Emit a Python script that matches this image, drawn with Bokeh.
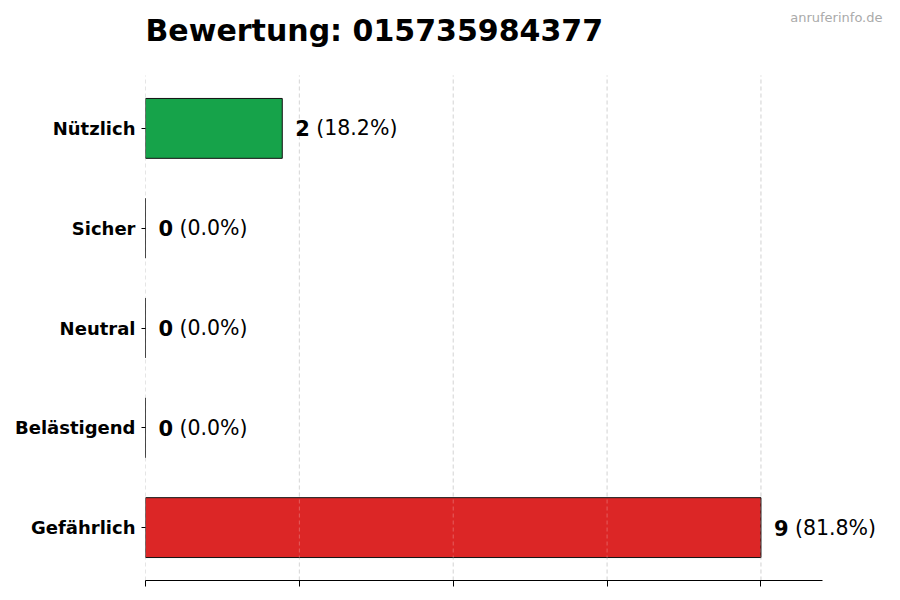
from bokeh.plotting import figure
from bokeh.models import Range1d, FixedTicker, Label
from bokeh.embed import file_html
from bokeh.resources import INLINE

# data
categories = ["Gefährlich", "Belästigend", "Neutral", "Sicher", "Nützlich"]
counts = [9, 0, 0, 0, 2]
colors = ["#dc2626", "#f97316", "#9ca3af", "#2563eb", "#16a34a"]
title_text = "Bewertung: 015735984377"
grid_ticks = [0, 2.25, 4.5, 6.75, 9]

total = sum(counts)
ypos = list(range(len(categories)))
xmax = max(counts) * 1.1
ylo, yhi = -0.53, len(categories) - 0.47

# frame spans the whole upper area so texts outside the axes are not clipped
p = figure(width=900, height=600, output_backend="svg", toolbar_location=None,
           x_range=Range1d(0, xmax * 745 / 677), y_range=Range1d(ylo, ylo + (yhi - ylo) * 580 / 505),
           min_border_left=145, min_border_right=10, min_border_top=0,
           min_border_bottom=20)
p.outline_line_color = None
p.background_fill_color = "white"
p.border_fill_color = "white"

# grid lines, only over the axes area
n = len(grid_ticks)
p.segment(x0=grid_ticks, y0=[ylo] * n, x1=grid_ticks, y1=[yhi] * n,
          line_color="#cccccc", line_dash="4 3", line_width=1)

p.hbar(y=ypos, right=counts, left=0, height=0.6, fill_color=colors,
       fill_alpha=1.0, line_color="#111111", line_width=1)

# grid shows faintly through the bars
p.segment(x0=grid_ticks[1:], y0=[ylo] * (n - 1), x1=grid_ticks[1:], y1=[yhi] * (n - 1),
          line_color="white", line_alpha=0.25, line_dash="4 3", line_width=1)

# axes
p.xaxis.bounds = (0, xmax)
p.xaxis.ticker = FixedTicker(ticks=grid_ticks)
p.xaxis.major_label_overrides = {t: "" for t in grid_ticks}
p.xaxis.major_label_standoff = 0
p.xaxis.major_tick_out = 6
p.xaxis.major_tick_in = 0
p.xaxis.minor_tick_line_color = None
p.xaxis.axis_line_color = "black"
p.xaxis.axis_line_width = 1

p.yaxis.ticker = FixedTicker(ticks=ypos)
p.yaxis.major_label_overrides = {i: c for i, c in zip(ypos, categories)}
p.yaxis.major_label_text_font = "DejaVu Sans"
p.yaxis.major_label_text_font_style = "bold"
p.yaxis.major_label_text_font_size = "18px"
p.yaxis.major_label_text_color = "black"
p.yaxis.major_label_standoff = 6
p.yaxis.major_tick_out = 4
p.yaxis.major_tick_in = 0
p.yaxis.minor_tick_line_color = None
p.yaxis.axis_line_color = None

p.xgrid.grid_line_color = None
p.ygrid.grid_line_color = None

# value labels
for y, c in zip(ypos, counts):
    pct = 100.0 * c / total
    p.add_layout(Label(x=c, y=y, x_offset=13, text=str(c), text_font="DejaVu Sans",
                       text_font_style="bold", text_font_size="21px",
                       text_baseline="middle", text_color="black"))
    p.add_layout(Label(x=c, y=y, x_offset=34, text=f"({pct:.1f}%)",
                       text_font="DejaVu Sans", text_font_size="20.5px",
                       text_baseline="middle", text_color="black"))

# title and watermark
p.add_layout(Label(x=0, y=yhi, y_offset=45, text=title_text,
                   text_font="DejaVu Sans", text_font_style="bold",
                   text_font_size="30px", text_baseline="alphabetic",
                   text_color="black"))
p.add_layout(Label(x=xmax, y=yhi, x_offset=60, y_offset=58,
                   text="anruferinfo.de", text_font="DejaVu Sans",
                   text_font_size="13px", text_align="right",
                   text_baseline="alphabetic", text_color="#aaaaaa"))

open("out.html", "w").write(file_html(p, INLINE))
